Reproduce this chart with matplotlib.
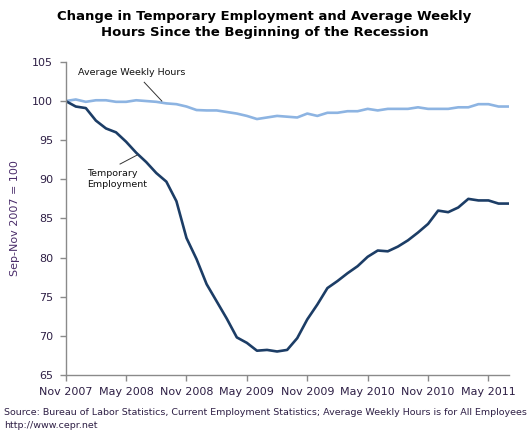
import matplotlib
matplotlib.use("Agg")
import matplotlib.pyplot as plt
import numpy as np

# Months since Nov 2007 (0 = Nov 2007 ... 44 = Jul 2011)
months = list(range(45))

temp_employment = [100.0, 99.3, 99.1, 97.5, 96.5, 96.0, 94.8, 93.4, 92.2, 90.8,
                   89.7, 87.2, 82.5, 79.8, 76.6, 74.4, 72.2, 69.8, 69.1, 68.1,
                   68.2, 68.0, 68.2, 69.7, 72.1, 74.0, 76.1, 77.0, 78.0, 78.9,
                   80.1, 80.9, 80.8, 81.4, 82.2, 83.2, 84.3, 86.0, 85.8, 86.4,
                   87.5, 87.3, 87.3, 86.9, 86.9]

weekly_hours = [100.0, 100.2, 99.9, 100.1, 100.1, 99.9, 99.9, 100.1, 100.0, 99.9,
                99.7, 99.6, 99.3, 98.85, 98.8, 98.8, 98.6, 98.4, 98.1, 97.7,
                97.9, 98.1, 98.0, 97.9, 98.4, 98.1, 98.5, 98.5, 98.7, 98.7,
                99.0, 98.8, 99.0, 99.0, 99.0, 99.2, 99.0, 99.0, 99.0, 99.2,
                99.2, 99.6, 99.6, 99.3, 99.3]

tick_positions = [0, 6, 12, 18, 24, 30, 36, 42]
tick_labels = ["Nov 2007", "May 2008", "Nov 2008", "May 2009",
               "Nov 2009", "May 2010", "Nov 2010", "May 2011"]
y_ticks = [65, 70, 75, 80, 85, 90, 95, 100, 105]

dark = "#1c3d66"
light = "#8db4e2"
txt = "#2e1f45"
axis_col = "#8a8a8a"

fig = plt.figure(figsize=(5.32, 4.36), dpi=100)
ax = fig.add_axes([0.1235, 0.140, 0.8325, 0.718])

ax.plot(months, weekly_hours, color=light, lw=1.9, solid_joinstyle="round")
ax.plot(months, temp_employment, color=dark, lw=1.9, solid_joinstyle="round")

ax.set_xlim(0, 44)
ax.set_ylim(65, 105)
ax.set_yticks(y_ticks)
ax.set_xticks(tick_positions)
ax.set_xticklabels(tick_labels)

for s in ["top", "right"]:
    ax.spines[s].set_visible(False)
for s in ["left", "bottom"]:
    ax.spines[s].set_color(axis_col)
    ax.spines[s].set_linewidth(1.0)

ax.tick_params(axis="both", colors=axis_col, labelcolor=txt, labelsize=8,
               length=4, width=1.0, direction="out")
ax.tick_params(axis="x", pad=5)
ax.tick_params(axis="y", pad=5)

ax.set_ylabel("Sep-Nov 2007 = 100", fontsize=8, color="#4a2c6a", labelpad=9)

# Annotations
ax.text(1.2, 103.6, "Average Weekly Hours", fontsize=6.8, color="#111111",
        ha="left", va="center")
ax.plot([7.8, 9.55], [102.4, 100.0], color="#333333", lw=0.7)

ax.text(2.1, 90.0, "Temporary\nEmployment", fontsize=6.8, color="#111111",
        ha="left", va="center", linespacing=1.3)
ax.plot([5.4, 7.1], [91.95, 93.1], color="#333333", lw=0.7)

fig.text(0.497, 0.978, "Change in Temporary Employment and Average Weekly\n"
         "Hours Since the Beginning of the Recession",
         ha="center", va="top", fontsize=9.5, fontweight="bold",
         color="#000000", linespacing=1.3)

fig.text(0.008, 0.053, "Source: Bureau of Labor Statistics, Current Employment "
         "Statistics; Average Weekly Hours is for All Employees",
         ha="left", va="center", fontsize=6.8, color="#2e1f45")
fig.text(0.008, 0.025, "http://www.cepr.net", ha="left", va="center",
         fontsize=6.8, color="#2e1f45")

fig.savefig("out.png", dpi=100)
